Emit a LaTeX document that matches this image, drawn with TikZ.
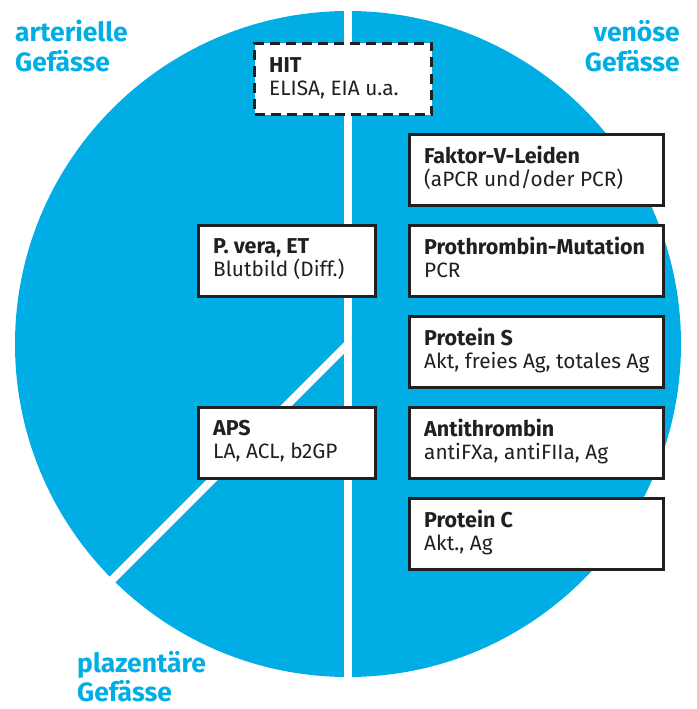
\documentclass[tikz,border=0pt]{standalone}
\usepackage{fontspec}
\setmainfont{Fira Sans}
\definecolor{cblue}{HTML}{00AEE5}
\definecolor{ink}{HTML}{231F20}
\begin{document}
\begin{tikzpicture}[x=1pt,y=-1pt,
  box/.style={draw=ink, line width=3pt, fill=white, anchor=north west, inner sep=0pt, outer sep=0pt, minimum height=71pt},
  rbox/.style={box, minimum width=254pt},
  lbox/.style={box, minimum width=177pt},
  ttl/.style={anchor=base west, inner sep=0pt, text=ink, font=\fontsize{21.5}{23}\selectfont\bfseries},
  sub/.style={anchor=base west, inner sep=0pt, text=ink, font=\fontsize{20.8}{23}\selectfont},
  lab/.style={inner sep=0pt, text=cblue, font=\fontsize{26.5}{29}\selectfont\bfseries},
  gap/.style={white, line width=8pt}]
\useasboundingbox (0,0) rectangle (696,709);
% pie
\fill[cblue] (348,344) circle[radius=333pt];
\coordinate (c) at (348,344);
\coordinate (top) at (348,0);
\coordinate (bot) at (348,709);
\coordinate (diag) at (40,652);
\draw[gap] (top) -- (bot);
\draw[gap] (c) -- (diag);
% region labels
\node[lab, anchor=base west] (art1) at (15,42) {arterielle};
\node[lab, anchor=base west] (art2) at (15,71) {Gefässe};
\node[lab, anchor=base east] (ven1) at (680,42) {venöse};
\node[lab, anchor=base east] (ven2) at (680,71) {Gefässe};
\node[lab, anchor=base west] (pla1) at (77,672) {plazentäre};
\node[lab, anchor=base west] (pla2) at (77,701) {Gefässe};
% HIT
\node[lbox, dash pattern=on 10pt off 6pt] (hit) at (254.5,43.5) {};
\node[ttl] (hitT) at (269,72) {HIT};
\node[sub] (hitS) at (269,95) {ELISA, EIA u.a.};
% left boxes
\node[lbox] (pv) at (198.5,225.5) {};
\node[ttl] (pvT) at (213,253) {P. vera, ET};
\node[sub] (pvS) at (213,276) {Blutbild (Diff.)};
\node[lbox] (aps) at (198.5,407.5) {};
\node[ttl] (apsT) at (213,435) {APS};
\node[sub] (apsS) at (213,458) {LA, ACL, b2GP};
% right boxes
\node[rbox] (fvl) at (409.5,134.5) {};
\node[ttl] (fvlT) at (424,163) {Faktor-V-Leiden};
\node[sub] (fvlS) at (424,186) {(aPCR und/oder PCR)};
\node[rbox] (pt) at (409.5,225.5) {};
\node[ttl] (ptT) at (424,254) {Prothrombin-Mutation};
\node[sub] (ptS) at (424,277) {PCR};
\node[rbox] (ps) at (409.5,316.5) {};
\node[ttl] (psT) at (424,345) {Protein S};
\node[sub] (psS) at (424,368) {Akt, freies Ag, totales Ag};
\node[rbox] (at) at (409.5,407.5) {};
\node[ttl] (atT) at (424,436) {Antithrombin};
\node[sub] (atS) at (424,459) {antiFXa, antiFIIa, Ag};
\node[rbox] (pc) at (409.5,498.5) {};
\node[ttl] (pcT) at (424,527) {Protein C};
\node[sub] (pcS) at (424,550) {Akt., Ag};
\end{tikzpicture}
\end{document}
